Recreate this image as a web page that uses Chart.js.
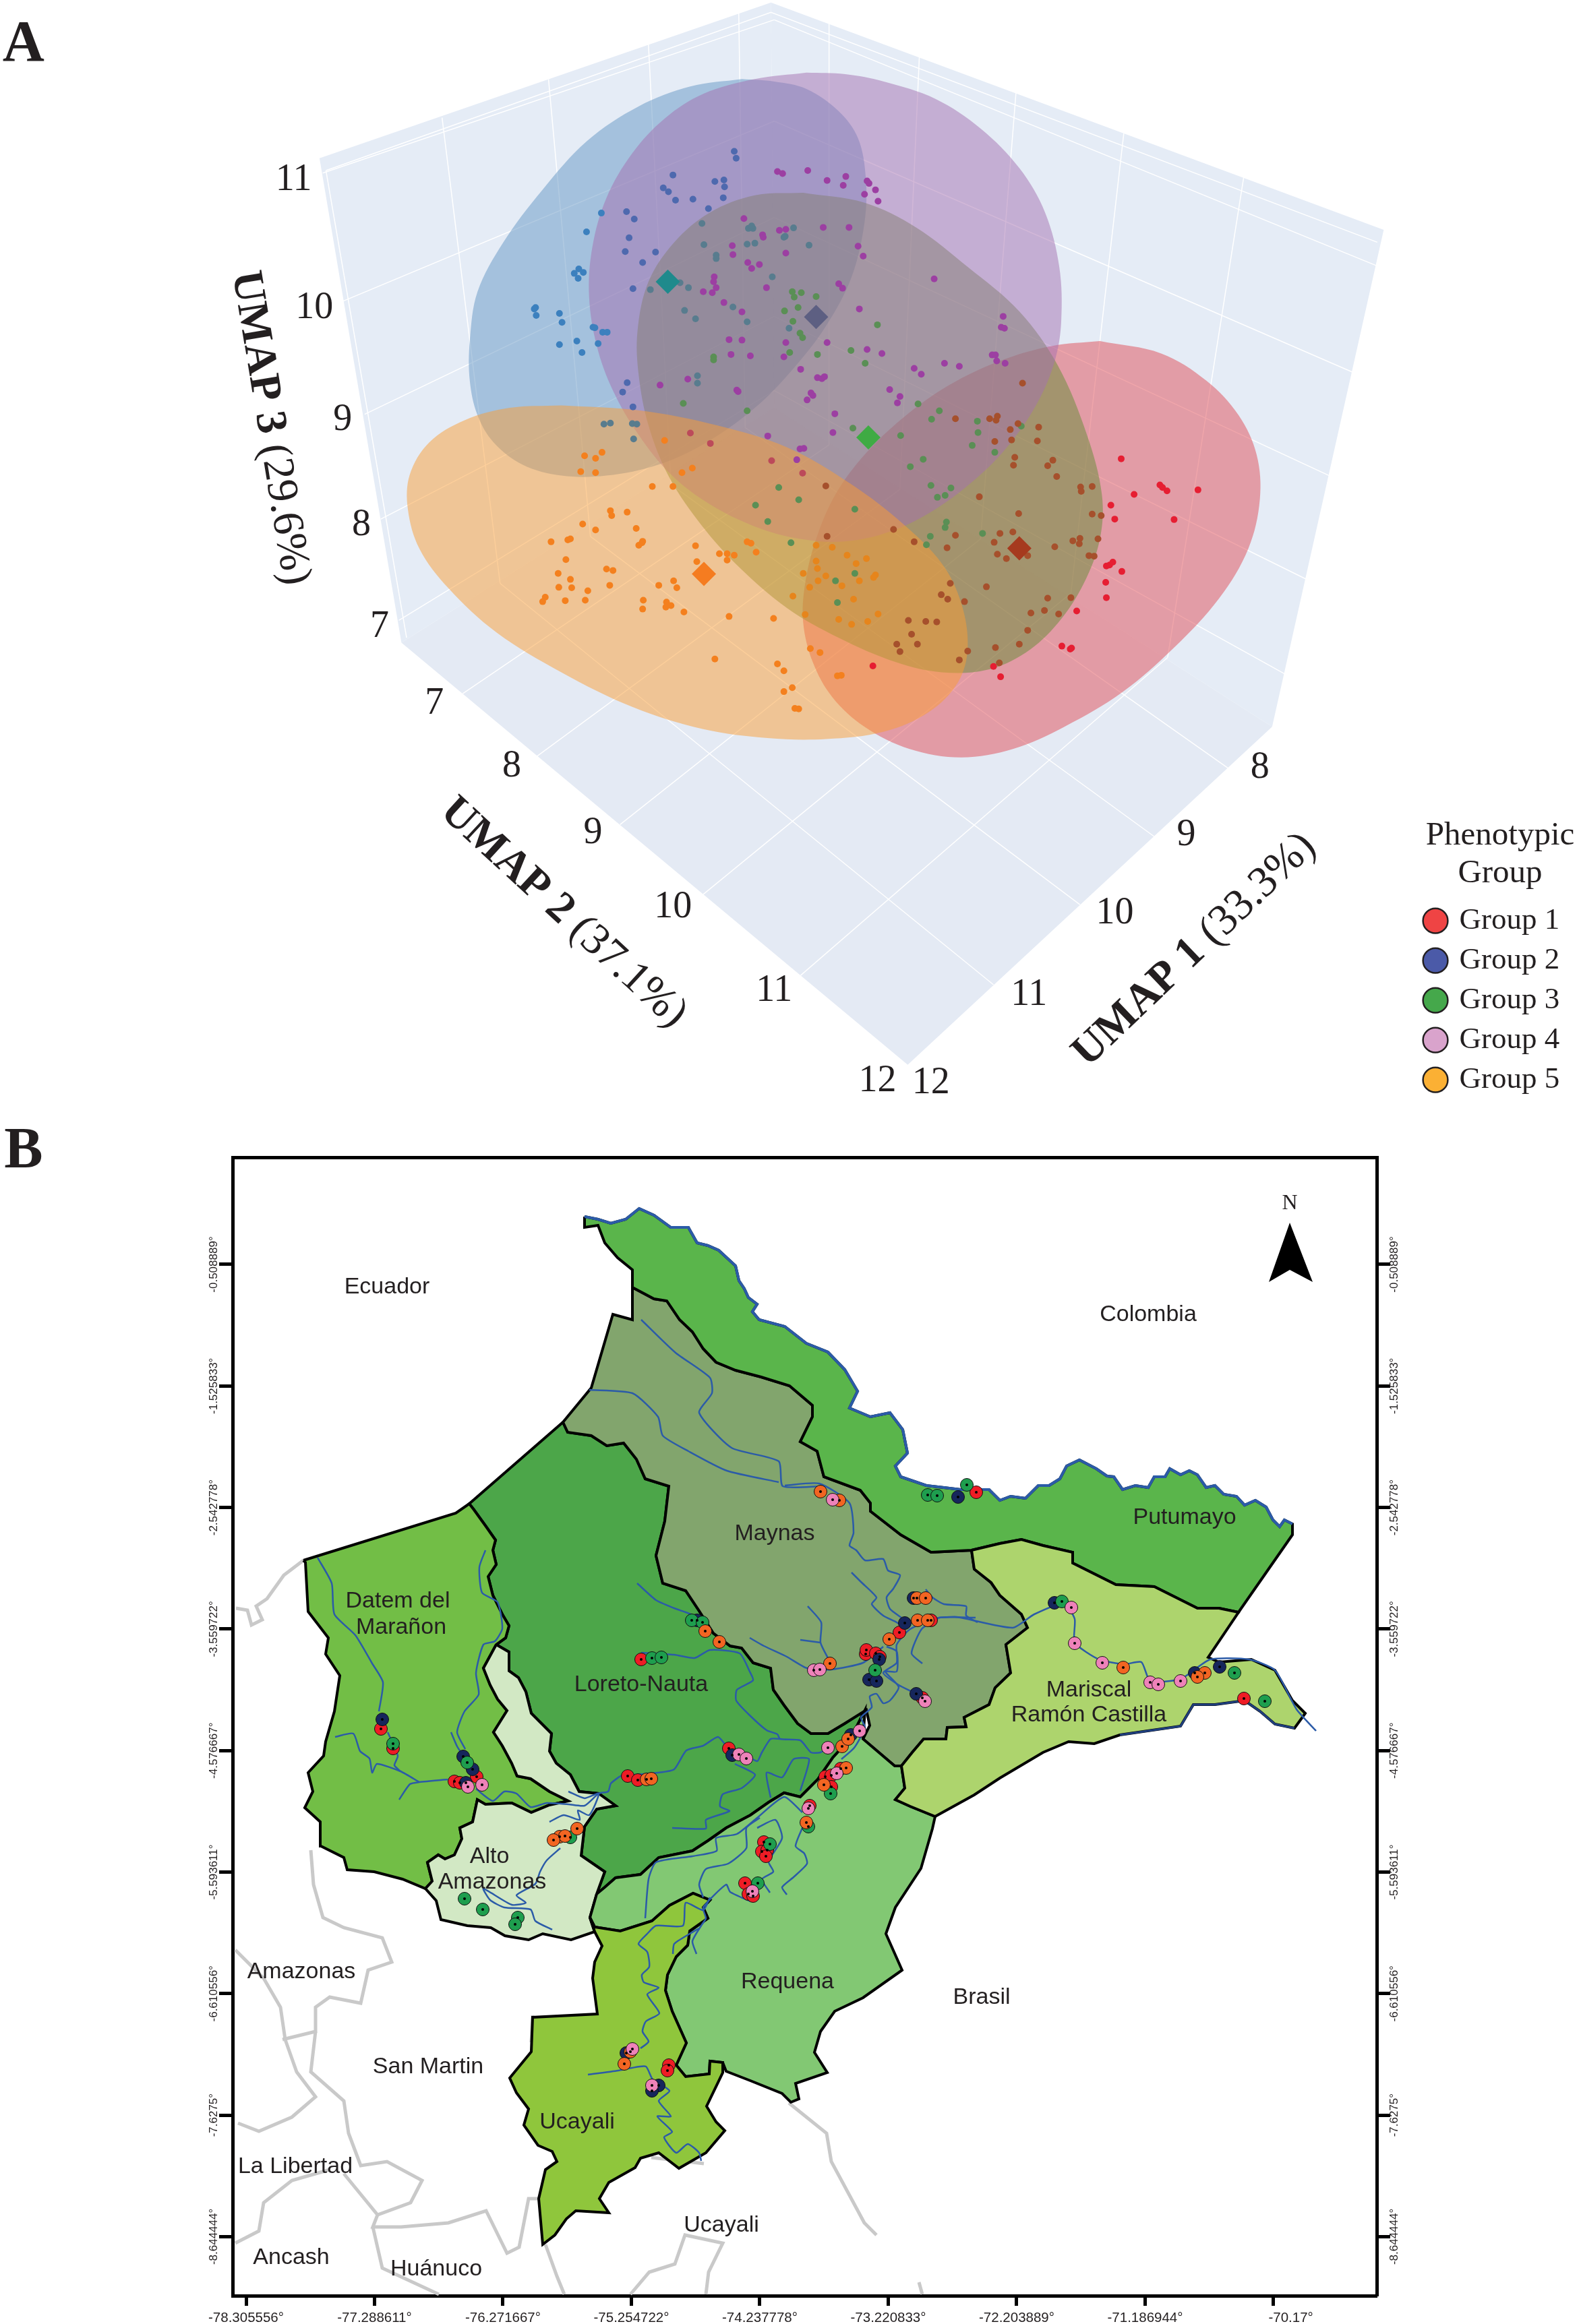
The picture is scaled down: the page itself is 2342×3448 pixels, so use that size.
<!DOCTYPE html>
<html>
<head>
<meta charset="utf-8">
<title>UMAP phenotypic groups and map</title>
<script src="https://cdn.jsdelivr.net/npm/chart.js@4"></script>
<style>
html,body{margin:0;padding:0;background:#fff;width:2342px;height:3448px;overflow:hidden}
canvas{position:absolute;display:block}
#a{left:0;top:0}
#b{left:0;top:1640px}
#l{left:2102px;top:1200px}
</style>
</head>
<body>
<canvas id="a" width="2342" height="1640"></canvas>
<canvas id="b" width="2342" height="1808"></canvas>
<canvas id="l" width="246" height="430"></canvas>
<script>
/* ---------- Panel A: values are read in the plane of the 3-D projection ---------- */
const wallLeft=[[25,320],[725,5],[730,825],[152,1300]];
const wallRight=[[725,5],[1675,465],[1502,1470],[730,825]];
const wallFloor=[[152,1300],[730,825],[1502,1470],[937,2154]];
const gridLines=[
 [[148,1255],[730,790]],[[120,1050],[730,640]],[[95,838],[730,440]],[[60,610],[730,245]],[[30,350],[730,40]],
 [[215,238],[305,1180]],[[380,160],[445,1085]],[[535,90],[570,980]],[[675,25],[685,865]],
 [[815,45],[815,900]],[[955,115],[925,990]],[[1105,185],[1050,1090]],[[1272,270],[1190,1200]],[[1458,358],[1340,1330]],
 [[730,790],[1531,1370]],[[730,640],[1568,1180]],[[730,440],[1605,971]],[[730,245],[1636,758]],[[730,40],[1667,539]],
 [[247,1403],[815,900]],[[362,1530],[925,990]],[[491,1668],[1050,1090]],[[620,1809],[1190,1200]],[[771,1973],[1340,1330]],
 [[1434,1554],[685,865]],[[1319,1692],[570,980]],[[1204,1830],[445,1085]],[[1070,1992],[305,1180]],
 [[35,345],[725,25],[1665,490]],[[35,345],[160,1290]]
];
const hullBlue=[[680,160],[600,175],[520,215],[440,285],[370,385],[310,490],[270,590],[258,690],[258,770],[270,840],[295,895],[340,940],[400,962],[470,962],[550,940],[625,895],[700,825],[760,745],[810,660],[850,560],[870,450],[872,360],[860,280],[830,225],[780,180],[730,165],[680,160]];
const hullPurple=[[780,147],[700,160],[620,190],[560,240],[510,310],[470,400],[448,500],[443,600],[455,700],[480,790],[520,880],[570,960],[630,1020],[700,1065],[770,1090],[840,1095],[910,1075],[980,1030],[1050,960],[1100,890],[1140,810],[1165,730],[1175,650],[1172,540],[1150,430],[1110,340],[1050,260],[980,200],[900,165],[840,150],[780,147]];
const hullGreen=[[775,390],[700,395],[630,430],[575,490],[535,570],[518,670],[520,760],[535,860],[565,960],[610,1050],[670,1140],[750,1230],[830,1290],[920,1340],[990,1360],[1060,1355],[1120,1320],[1170,1260],[1210,1180],[1235,1090],[1238,1000],[1215,880],[1170,740],[1110,630],[1030,540],[950,460],[870,410],[775,390]];
const hullRed=[[1235,690],[1160,700],[1080,730],[1000,780],[930,845],[870,920],[825,1000],[795,1090],[778,1180],[775,1260],[790,1340],[820,1410],[870,1470],[940,1515],[1020,1532],[1100,1515],[1180,1470],[1270,1400],[1350,1310],[1420,1210],[1465,1110],[1483,1010],[1478,920],[1450,840],[1400,770],[1330,715],[1235,690]];
const hullOrange=[[400,820],[320,825],[250,850],[195,895],[165,960],[162,1030],[180,1110],[225,1190],[300,1280],[400,1360],[510,1430],[620,1475],[720,1493],[810,1495],[900,1480],[970,1440],[1015,1380],[1030,1310],[1020,1220],[990,1140],[930,1060],[850,980],[750,905],[640,860],[520,830],[400,820]];

const ptsBlueBright=[[462,431],[439,469],[420,553],[427,544],[434,551],[426,563],[360,622],[358,625],[361,638],[397,634],[401,652],[449,662],[452,663],[464,672],[471,672],[457,695],[397,697],[424,690],[432,713]];
const ptsBlueMid=[[668,306],[671,320],[573,354],[558,380],[566,388],[577,405],[604,403],[638,367],[652,364],[653,378],[651,400],[628,422],[501,428],[513,443],[505,481],[499,509],[546,510],[526,531],[511,584],[502,774],[495,793],[511,823]];
const ptsBlueGrey=[[621,495],[640,516],[640,523],[618,452],[690,462],[697,462],[695,457],[747,478],[745,480],[760,461],[688,494],[700,492],[784,496],[727,560],[538,586],[584,572],[597,582],[591,628],[608,645],[666,621],[688,651],[753,664],[611,760],[611,775],[466,858],[476,856],[510,857],[517,858],[512,888]];
const ptsPurple=[[735,347],[743,351],[782,345],[812,365],[841,357],[874,366],[877,371],[837,375],[887,384],[870,393],[891,407],[683,442],[712,475],[713,480],[738,466],[748,464],[806,460],[846,460],[860,498],[868,518],[665,497],[666,515],[748,512],[689,531],[707,535],[695,543],[637,560],[636,570],[620,590],[634,592],[640,582],[718,582],[830,574],[836,583],[978,564],[652,612],[680,631],[660,687],[680,688],[748,693],[812,693],[663,717],[693,720],[745,722],[862,625],[1085,640],[1082,662],[1087,664],[874,707],[897,715],[1068,718],[1073,718],[1075,730],[1088,735],[994,735],[1017,741],[947,745],[958,757],[771,747],[797,764],[804,766],[808,762],[596,767],[553,779],[672,789],[674,792],[787,795],[790,800],[781,809],[909,788],[925,802],[921,815],[824,837],[821,875],[720,882],[770,908],[776,907],[765,930]];
const ptsPurpleRed=[[600,876],[631,897],[726,932],[774,957]];
const ptsGreen=[[758,590],[772,592],[761,601],[795,600],[746,629],[767,622],[759,650],[770,674],[774,683],[754,713],[797,717],[849,709],[871,735],[890,657],[636,722],[636,728],[589,816],[688,831],[852,866],[926,881],[953,817],[986,831],[974,848],[1045,852],[1046,875],[1037,901],[1072,915],[1113,862],[941,944],[961,929],[973,982],[1004,987],[983,1006],[995,1002],[997,1056],[995,1067],[972,1085],[966,1102],[1053,1079],[756,1098],[737,986],[701,1022],[768,1011],[720,1055],[855,1030],[825,1175],[855,1160],[828,1219]];
const ptsRedBright=[[1268,928],[1328,981],[1332,986],[1339,993],[1387,991],[1288,1000],[1252,1022],[1258,1050],[1350,1051],[1245,1145],[1250,1143],[1255,1137],[1269,1156],[1244,1178],[1245,1209],[1199,1236],[1176,1307],[1189,1313],[1191,1311],[883,1347],[1081,1369],[1070,1348]];
const ptsRedBrown=[[1115,775],[1011,847],[1064,847],[1076,842],[1074,850],[1096,869],[1108,857],[1140,864],[1138,892],[1072,893],[1098,890],[1103,925],[1101,941],[1162,931],[1154,942],[1168,964],[1205,985],[1206,994],[1223,984],[1048,1005],[1223,1040],[1237,1043],[1109,1039],[1232,1090],[1193,1094],[1204,1089],[1203,1100],[1165,1106],[1011,1083],[1080,1079],[1100,1076],[1071,1097],[998,1108],[1076,1121],[1090,1130],[1123,1124],[1218,1124],[1226,1125],[1003,1180],[1059,1187],[989,1203],[999,1212],[1025,1217],[1154,1210],[1190,1209],[1128,1240],[1149,1235],[1171,1242],[1123,1275],[1110,1303],[1073,1310],[1030,1317],[1017,1335],[1079,1341],[965,1257],[982,1258],[938,1255],[943,1283],[920,1303],[952,1303],[925,1318],[947,1096],[915,1071],[810,983],[812,1085]];
const ptsOrange=[[436,922],[463,915],[453,927],[430,954],[453,956],[541,984],[573,984],[560,891],[587,956],[603,947],[476,1033],[502,1036],[478,1043],[433,1060],[453,1072],[516,1069],[526,1095],[525,1098],[520,1103],[384,1096],[410,1092],[414,1090],[407,1132],[395,1160],[414,1172],[396,1188],[416,1189],[441,1195],[375,1208],[371,1217],[406,1215],[437,1214],[470,1151],[480,1154],[475,1184],[551,1184],[574,1175],[579,1189],[608,1104],[610,1136],[645,1120],[657,1120],[668,1123],[657,1133],[688,1096],[694,1099],[702,1117],[527,1214],[526,1232],[563,1218],[562,1228],[570,1225],[590,1238],[660,1247],[729,1251],[638,1333],[735,1343],[745,1357],[758,1391],[745,1399],[762,1433],[768,1434],[786,1312],[801,1320],[828,1367],[834,1366]];
const ptsOrangeDeep=[[795,1103],[820,1107],[795,1135],[797,1150],[843,1123],[857,1140],[873,1130],[775,1160],[798,1175],[785,1188],[810,1165],[835,1185],[862,1175],[887,1163],[884,1168],[759,1206],[853,1212],[778,1243],[830,1253],[850,1263],[875,1257],[891,1242]];
const centroids=[[[565,570],'#1F8A8C'],[[795,641],'#5D5F82'],[[876,885],'#3FAB44'],[[1110,1109],'#A63A1E'],[[621,1161],'#F57C20']];

const zTicks=[['11',-15,365],['10',17,623],['9',61,850],['8',90,1062],['7',118,1268]];
const umap2Ticks=[['7',203,1424],['8',323,1550],['9',449,1686],['10',573,1835],['11',730,2005],['12',890,2188]];
const umap1Ticks=[['8',1483,1553],['9',1369,1690],['10',1258,1848],['11',1125,2013],['12',973,2192]];
const axisTitles=[['UMAP 3',' (29.6%)',-52,866,80.6],['UMAP 2',' (37.1%)',403,1847,42.6],['UMAP 1',' (33.3%)',1382,1922,-43.7]];

/* ---------- Legend ---------- */
const legendNames=['Group 1','Group 2','Group 3','Group 4','Group 5'];
const legendColors=['#EF4444','#4B5AA8','#45A84B','#D9A3CC','#FBB034'];

/* ---------- Panel B: graticule ---------- */
const lonTicks=['-78.305556','-77.288611','-76.271667','-75.254722','-74.237778','-73.220833','-72.203889','-71.186944','-70.17'];
const latTicks=['-0.508889','-1.525833','-2.542778','-3.559722','-4.576667','-5.593611','-6.610556','-7.6275','-8.644444'];

/* map-sheet units (east, south) converted to degrees below */
const putWest=[[867,1805],[867,1821],[887,1818],[897,1844],[916,1866],[938,1884],[938,1910]];
const borderPutMaynas=[[938,1910],[970,1927],[989,1930],[1008,1958],[1027,1976],[1043,2001],[1062,2021],[1091,2033],[1129,2043],[1171,2056],[1205,2085],[1205,2102],[1187,2139],[1212,2153],[1222,2191],[1276,2211],[1291,2230],[1291,2242],[1336,2277],[1381,2303],[1441,2300]];
const borderPutMariscal=[[1441,2300],[1483,2290],[1515,2284],[1547,2293],[1591,2303],[1591,2319],[1655,2351],[1712,2354],[1776,2386],[1808,2386],[1837,2392]];
const putEast=[[1917,2277]];
const putNorth=[[1917,2261],[1905,2255],[1898,2265],[1888,2255],[1878,2236],[1862,2226],[1846,2233],[1834,2220],[1815,2217],[1802,2204],[1789,2207],[1776,2188],[1764,2182],[1751,2188],[1735,2179],[1728,2191],[1712,2191],[1703,2207],[1684,2204],[1665,2210],[1652,2191],[1642,2190],[1626,2179],[1601,2166],[1582,2175],[1572,2194],[1556,2204],[1540,2204],[1521,2223],[1499,2220],[1483,2226],[1467,2210],[1451,2210],[1425,2210],[1400,2207],[1374,2204],[1336,2191],[1328,2175],[1346,2156],[1339,2121],[1320,2096],[1291,2102],[1260,2089],[1272,2064],[1253,2032],[1228,2006],[1196,1993],[1164,1968],[1126,1958],[1116,1946],[1123,1935],[1110,1925],[1104,1912],[1096,1900],[1091,1878],[1066,1855],[1050,1848],[1034,1844],[1021,1821],[995,1821],[970,1803],[948,1793],[928,1809],[906,1815],[887,1809],[867,1805]];
const maynasMariscal=[[1445,2328],[1470,2348],[1483,2367],[1515,2395],[1524,2415],[1492,2440],[1499,2482],[1476,2504],[1467,2529],[1430,2548],[1433,2562],[1405,2563],[1403,2580],[1370,2580],[1353,2600],[1337,2620]];
const maynasTip=[[1327,2620],[1280,2580],[1290,2560],[1285,2537]];
const borderMaynasLoreto=[[1253,2557],[1228,2572],[1203,2572],[1183,2557],[1163,2530],[1147,2507],[1143,2475],[1117,2467],[1100,2445],[1083,2442],[1058,2423],[1037,2390],[1017,2360],[983,2349],[973,2308],[986,2257],[992,2205],[957,2194],[944,2165],[925,2141],[900,2145],[877,2130],[842,2125],[835,2110]];
const maynasNorth=[[877,2059],[909,1950],[938,1958],[938,1910]];
const loretoNorth=[[835,2110],[696,2231]];
const borderLoretoDatem=[[703,2240],[721,2265],[735,2285],[731,2300],[736,2321],[724,2339],[731,2367],[745,2395],[755,2412],[750,2430],[736,2440]];
const borderLoretoAlto=[[755,2451],[755,2479],[769,2489],[780,2510],[788,2542],[818,2572],[815,2598],[825,2616],[846,2633],[859,2658],[888,2661],[913,2679],[885,2684],[867,2710],[862,2753],[897,2777],[885,2810]];
const borderLoretoRequena=[[897,2800],[913,2786],[950,2781],[977,2756],[1027,2746],[1050,2731],[1077,2712],[1113,2693],[1140,2674],[1163,2660],[1187,2666],[1213,2640],[1235,2608],[1263,2577],[1283,2537]];
const datemNorth=[[450,2315],[676,2245],[696,2231]];
const borderDatemAlto=[[717,2475],[727,2500],[738,2521],[752,2538],[732,2570],[745,2590],[759,2616],[767,2635],[787,2639],[815,2658],[843,2672],[815,2678],[788,2689],[759,2675],[720,2677],[708,2670],[701,2703],[682,2712],[685,2728],[674,2752],[660,2758],[650,2752],[634,2763],[641,2791],[631,2802]];
const datemSouth=[[597,2788],[555,2777],[515,2774],[510,2756],[476,2739],[475,2703],[452,2682],[464,2658],[457,2630],[480,2605],[483,2584],[496,2539],[504,2486],[483,2454],[487,2430],[457,2391],[453,2318]];
const altoBottom=[[875,2845],[882,2866],[847,2878],[805,2869],[784,2878],[749,2872],[728,2860],[693,2857],[654,2848],[647,2820]];
const requenaEast=[[1280,2580],[1327,2620],[1337,2620],[1342,2653],[1328,2670],[1350,2680],[1387,2695],[1383,2713],[1366,2772],[1328,2830],[1314,2869],[1338,2923],[1280,2964],[1238,2984],[1217,3014],[1208,3045],[1227,3075],[1180,3091],[1185,3114],[1173,3119],[1160,3106],[1113,3087],[1077,3073]];
const borderReqUcayali=[[1072,3060],[1053,3058],[1052,3077],[1017,3081],[1003,3064],[1018,3031],[997,2984],[987,2953],[990,2930],[1003,2903],[1020,2886],[1023,2865],[1050,2846],[1043,2830],[1053,2819],[1028,2809],[993,2827],[967,2850],[920,2865],[882,2859],[875,2845]];
const ucayaliRest=[[1072,3075],[1048,3125],[1062,3148],[1075,3161],[1047,3194],[1007,3217],[977,3194],[950,3202],[942,3216],[903,3238],[889,3262],[903,3283],[854,3280],[840,3292],[823,3316],[805,3330],[799,3262],[809,3219],[826,3207],[819,3192],[798,3183],[777,3153],[784,3129],[766,3105],[756,3083],[788,3044],[790,2993],[886,2988],[879,2935],[882,2911],[893,2887],[882,2866]];
const mariscalSouth=[[1792,2459],[1808,2466],[1856,2462],[1891,2478],[1917,2523],[1936,2542],[1920,2564],[1891,2558],[1869,2539],[1846,2523],[1802,2529],[1770,2529],[1751,2561],[1661,2574],[1623,2587],[1585,2584],[1547,2600],[1483,2638],[1445,2663],[1387,2695],[1350,2680],[1328,2670],[1342,2653],[1337,2620]];
const mariscalRiver=[[1661,2574],[1751,2561],[1770,2529],[1802,2529],[1846,2523],[1869,2539],[1891,2558],[1920,2564]];

const greyLines=[
 [[450,2315],[421,2337],[396,2372],[380,2383],[389,2403],[373,2411],[367,2389],[350,2386]],
 [[461,2745],[465,2796],[479,2845],[510,2860],[567,2875],[581,2911],[546,2923],[535,2972],[489,2963],[468,2978],[468,3014],[419,3026]],
 [[468,3014],[461,3074],[510,3117],[517,3165],[535,3213],[574,3207],[626,3235],[609,3268],[560,3286],[510,3225]],
 [[349,2893],[391,2935],[416,2978],[423,3026],[440,3074],[468,3111],[433,3141],[384,3162],[353,3150]],
 [[349,3328],[384,3310],[391,3268],[433,3235],[489,3219]],
 [[560,3286],[553,3304],[595,3304],[665,3298],[721,3280],[752,3343],[770,3334],[784,3262],[805,3262]],
 [[553,3304],[567,3365],[651,3404]],
 [[809,3330],[826,3377],[837,3404]],
 [[935,3404],[963,3371],[1001,3359],[1016,3316],[1072,3328],[1051,3371],[1047,3404]],
 [[1170,3120],[1226,3165],[1233,3207],[1282,3298],[1300,3316]],
 [[1363,3386],[1368,3404]],
 [[790,2990],[788,3030]],[[966,3201],[1044,3210]]
];
const rivers=[
 [[592,2670],[608,2647],[622,2644],[664,2640]],
 [[706,2654],[731,2672],[748,2658],[766,2661],[787,2681],[811,2675],[843,2677],[867,2679],[888,2661],[902,2658],[906,2646],[920,2635]],
 [[1393,2400],[1419,2399],[1502,2415],[1534,2395],[1578,2379],[1594,2402],[1594,2437],[1630,2462],[1668,2469],[1693,2466],[1706,2494],[1751,2491],[1795,2462],[1853,2462],[1891,2478],[1923,2536],[1952,2568]],
 [[951,1958],[1002,2007],[1053,2044],[1056,2067],[1037,2096],[1085,2148],[1155,2168],[1161,2205],[1219,2205]],
 [[874,2062],[938,2067],[976,2102],[983,2130],[1021,2153],[1078,2182],[1155,2199]],
 [[1164,2204],[1215,2201],[1260,2230],[1266,2274],[1260,2293],[1270,2300],[1283,2315],[1310,2313],[1317,2330],[1335,2337],[1325,2357],[1315,2370],[1320,2387],[1337,2400]],
 [[1263,2333],[1277,2347],[1300,2370],[1293,2380],[1310,2397],[1330,2407],[1343,2417]],
 [[1198,2383],[1218,2407],[1217,2437],[1228,2460]],[[1187,2433],[1217,2437]],
 [[1112,2430],[1133,2442],[1167,2458],[1197,2475],[1233,2477],[1280,2467],[1310,2443]],
 [[1447,2400],[1393,2400],[1350,2417],[1330,2440],[1330,2467],[1310,2482],[1333,2500],[1353,2510]],
 [[1315,2443],[1330,2450],[1330,2480],[1313,2480],[1333,2503],[1320,2523],[1310,2527],[1300,2513],[1290,2517],[1293,2533],[1277,2548],[1283,2563],[1267,2593],[1248,2610]],
 [[1393,2400],[1367,2417],[1352,2453],[1368,2468]],
 [[1373,2358],[1383,2370],[1400,2380],[1433,2383],[1433,2397],[1450,2407]],
 [[945,2349],[973,2374],[1000,2386],[1017,2392],[1037,2400]],
 [[951,2452],[1000,2455],[1030,2460],[1053,2448],[1097,2453],[1112,2480],[1117,2493],[1093,2507],[1092,2523],[1110,2543],[1137,2567],[1153,2573],[1157,2580],[1187,2582],[1203,2600],[1217,2600],[1227,2593]],
 [[920,2635],[976,2630],[1000,2625],[1018,2597],[1043,2590],[1065,2577],[1080,2593],[1100,2600],[1123,2613],[1130,2600],[1143,2580],[1157,2580]],
 [[1090,2617],[1120,2633],[1100,2653],[1072,2662],[1068,2680],[1082,2687],[1047,2700],[1047,2713],[997,2712]],
 [[1143,2667],[1137,2630],[1160,2637],[1177,2610],[1200,2610],[1187,2657]],
 [[471,2311],[492,2349],[496,2395],[527,2426],[552,2468],[568,2496],[562,2539]],
 [[497,2577],[524,2572],[534,2598],[548,2609],[552,2630],[559,2617],[594,2628],[622,2644]],
 [[575,2570],[590,2605],[585,2619],[594,2628]],
 [[720,2300],[711,2325],[715,2363],[738,2377],[745,2416],[734,2435],[717,2440],[706,2482],[710,2514],[689,2539],[678,2570],[690,2595]],
 [[669,2570],[678,2591],[687,2605]],
 [[843,2658],[867,2668],[888,2661],[874,2693],[857,2686],[860,2700],[836,2693],[815,2703]],
 [[831,2742],[811,2760],[801,2777],[794,2795],[766,2812],[780,2823],[759,2826],[717,2802],[727,2819],[748,2830],[787,2833],[794,2850],[819,2863]],
 [[957,2846],[962,2788],[973,2763],[1027,2754],[1063,2746],[1062,2727],[1093,2721],[1123,2697],[1163,2666],[1190,2689]],
 [[1043,2815],[1037,2796],[1047,2773],[1080,2765],[1107,2742],[1107,2712],[1127,2697]],
 [[1123,2712],[1150,2700],[1160,2727],[1140,2762],[1147,2777],[1130,2788],[1142,2808]],
 [[1033,2899],[1027,2880],[1040,2857],[1047,2846],[1043,2830],[1077,2796],[1083,2807],[1113,2821]],
 [[1167,2811],[1160,2800],[1177,2785],[1197,2765],[1193,2750],[1180,2739],[1190,2712]],
 [[1053,2815],[1043,2834],[1017,2823],[1013,2857],[973,2857],[960,2869],[947,2884],[960,2896],[963,2918],[952,2930],[955,2941],[977,2949],[960,2959],[978,2987],[958,2999],[953,3014],[962,3029],[950,3039]],
 [[872,3078],[917,3072],[937,3068],[958,3066],[968,3085],[993,3102],[977,3117],[995,3140],[975,3140],[997,3163],[985,3171],[1003,3194],[1020,3181],[1037,3194],[1040,3206]],
 [[998,2899],[1000,2884],[1023,2869],[1037,2861]]
];
const sitesRed=[[951,2462],[565,2565],[583,2594],[707,2636],[674,2643],[682,2645],[931,2635],[946,2641],[1081,2594],[1224,2636],[1233,2634],[1247,2624],[1233,2651],[1201,2679],[1133,2733],[1130,2747],[1138,2745],[1136,2754],[1105,2794],[1110,2810],[1117,2813],[992,3064],[990,3072],[1448,2214],[1845,2520],[1381,2404],[1334,2422],[1284,2454],[1285,2448],[1299,2453],[1305,2458],[1368,2519]];
const sitesNavy=[[1034,2404],[567,2551],[687,2606],[701,2625],[691,2645],[1086,2604],[1262,2574],[929,3046],[977,3094],[967,3102],[1359,2513],[1421,2221],[1355,2371],[1564,2378],[1772,2482],[1809,2473],[1342,2408],[1304,2462],[1289,2492],[1300,2494]];
const sitesGreen=[[1026,2404],[1042,2407],[967,2460],[981,2459],[583,2587],[693,2615],[1232,2661],[1199,2710],[1142,2736],[1124,2794],[846,2726],[689,2817],[716,2833],[768,2845],[764,2855],[1376,2218],[1390,2219],[1434,2203],[1575,2376],[1831,2482],[1876,2524],[1298,2478]];
const sitesOrange=[[1217,2213],[1245,2226],[1046,2420],[1067,2436],[1231,2468],[959,2640],[966,2639],[1249,2591],[1258,2580],[1255,2623],[1222,2648],[1196,2704],[856,2713],[830,2725],[838,2724],[821,2730],[935,3044],[926,3062],[1360,2371],[1373,2371],[1361,2404],[1376,2404],[1319,2432],[1666,2474],[1787,2482],[1776,2488]];
const sitesPink=[[1235,2225],[1207,2478],[1216,2477],[694,2651],[715,2648],[1096,2603],[1107,2609],[1228,2593],[1275,2568],[1241,2631],[1199,2683],[1116,2806],[938,3040],[967,3094],[1372,2524],[1589,2385],[1594,2438],[1635,2467],[1706,2496],[1718,2499],[1751,2494]];
const northArrow=[[1913,1814],[1882,1902],[1913,1884],[1947,1902],[1913,1814]];
const mapLabels=[['Ecuador',574,1910],['Colombia',1703,1951],['Putumayo',1757,2252],['Maynas',1149,2276],['Datem del',590,2376],['Marañon',595,2415],['Loreto-Nauta',951,2500],['Mariscal',1615,2508],['Ramón Castilla',1615,2545],['Alto',726,2755],['Amazonas',730,2793],['Requena',1168,2941],['Brasil',1456,2964],['Amazonas',447,2926],['San Martin',635,3067],['Ucayali',856,3149],['La Libertad',438,3215],['Ucayali',1070,3302],['Ancash',432,3350],['Huánuco',647,3367]];

/* ---------- helpers ---------- */
const INK='#231F20', SERIF='"Liberation Serif"', SANS='"Liberation Sans"';
const xy=a=>a.map(([x,y])=>({x,y}));
const rev=a=>a.slice().reverse();
function withOrder(list){list.forEach((d,i)=>{d.order=list.length-i;});return list;}
function shape(label,pts,fill,stroke,width,tension){return {label,data:pts,showLine:true,fill:'shape',backgroundColor:fill,borderColor:stroke||'rgba(0,0,0,0)',borderWidth:width||0,pointRadius:0,tension:tension||0,clip:false};}
function line(label,pts,color,width,tension){return {label,data:pts,showLine:true,fill:false,borderColor:color,borderWidth:width,pointRadius:0,tension:tension||0};}
function dots(label,pts,color,r,extra){return Object.assign({label,data:pts,showLine:false,backgroundColor:color,borderColor:color,borderWidth:0,pointRadius:r,pointHoverRadius:r},extra||{});}
function drawItems(chart,items){
  const c=chart.ctx,sx=chart.scales.x,sy=chart.scales.y;
  c.save();
  items.forEach(i=>{
    const px=sx.getPixelForValue(i.x),py=sy.getPixelForValue(i.y);
    c.save();c.translate(px,py);if(i.rot)c.rotate(i.rot*Math.PI/180);
    c.fillStyle=INK;c.textBaseline='middle';
    if(i.bold){
      const bf='bold '+i.size+'px '+SERIF,rf=i.size+'px '+SERIF;
      c.font=bf;const w1=c.measureText(i.bold).width;
      c.font=rf;const w2=c.measureText(i.t).width;
      c.textAlign='left';c.font=bf;c.fillText(i.bold,-(w1+w2)/2,0);
      c.font=rf;c.fillText(i.t,-(w1+w2)/2+w1,0);
    }else{
      c.font=(i.weight||'')+' '+i.size+'px '+(i.fam||SERIF);c.textAlign='center';c.fillText(i.t,0,0);
    }
    c.restore();
  });
  c.restore();
}

/* ---------- Panel A chart ---------- */
const VIEW={xMin:-470.4,xMax:1977.8,yMin:0,yMax:2236};
const aDatasets=withOrder([
  shape('Left wall',xy(wallLeft.concat([wallLeft[0]])),'#E5ECF6'),
  shape('Right wall',xy(wallRight.concat([wallRight[0]])),'#E5ECF6'),
  shape('Floor',xy(wallFloor.concat([wallFloor[0]])),'#E4EAF4'),
  ...gridLines.map((g,i)=>line('grid '+i,xy(g),'#FFFFFF',1.5)),
  shape('Hull group 2',xy(hullBlue),'rgba(100,150,195,0.5)',null,0,0.35),
  shape('Hull group 1',xy(hullRed),'rgba(223,76,86,0.5)',null,0,0.35),
  shape('Hull group 3',xy(hullGreen),'rgba(100,140,54,0.5)',null,0,0.35),
  shape('Hull group 4',xy(hullPurple),'rgba(163,112,176,0.5)',null,0,0.35),
  shape('Hull group 5',xy(hullOrange),'rgba(249,158,54,0.5)',null,0,0.35),
  dots('Group 2',xy(ptsBlueBright),'#3C80BE',5),
  dots('Group 2 b',xy(ptsBlueMid),'#4E69AE',5),
  dots('Group 2 c',xy(ptsBlueGrey),'#587C8E',5),
  dots('Group 4',xy(ptsPurple),'#9C3FA2',5),
  dots('Group 4 b',xy(ptsPurpleRed),'#BC4A5A',5),
  dots('Group 3',xy(ptsGreen),'#5A8F55',5),
  dots('Group 1',xy(ptsRedBright),'#E61E32',5),
  dots('Group 1 b',xy(ptsRedBrown),'#A6502C',5),
  dots('Group 5',xy(ptsOrange),'#F4801E',5),
  dots('Group 5 b',xy(ptsOrangeDeep),'#E6851C',5),
  ...centroids.map(([p,col],i)=>dots('Centroid '+(i+1),xy([p]),col,18,{pointStyle:'rectRot'}))
]);
const aTexts=[
  ...zTicks.concat(umap2Ticks,umap1Ticks).map(([t,x,y])=>({t,x,y,size:56})),
  ...axisTitles.map(([b,t,x,y,rot])=>({bold:b,t,x,y,rot,size:65})),
  {t:'A',x:-434,y:93,size:86,weight:'bold'}
];
new Chart(document.getElementById('a'),{
  type:'scatter',
  data:{datasets:aDatasets},
  options:{responsive:false,animation:false,devicePixelRatio:1,
    layout:{padding:0,autoPadding:false},
    plugins:{legend:{display:false},tooltip:{enabled:false},title:{display:false}},
    scales:{
      x:{type:'linear',display:false,min:VIEW.xMin,max:VIEW.xMax},
      y:{type:'linear',display:false,min:VIEW.yMin,max:VIEW.yMax,reverse:true}
    }},
  plugins:[{id:'panelAText',afterDatasetsDraw(ch){drawItems(ch,aTexts);}}]
});

/* ---------- Panel B chart ---------- */
const lonVals=lonTicks.map(Number), latVals=latTicks.map(Number);
const lonAt=e=>lonVals[0]+(e-365)*(lonVals[1]-lonVals[0])/190.5;
const latAt=s=>latVals[0]+(s-1876)*(latVals[1]-latVals[0])/180.3;
const geo=a=>a.map(([e,s])=>({x:lonAt(e),y:latAt(s)}));
const ring=(...parts)=>{const r=[].concat(...parts);r.push(r[0]);return geo(r);};
const LON_MIN=lonAt(345),LON_MAX=lonAt(2042),LAT_MIN=latAt(3406),LAT_MAX=latAt(1717);
const OUT='#000000',RIVER='#2B5BA8',BW=4;
const sitesOf=(label,a,col)=>dots(label,geo(a),col,9.5,{borderColor:'#111',borderWidth:1});
const allSites=[].concat(sitesRed,sitesNavy,sitesGreen,sitesOrange,sitesPink);
const bDatasets=withOrder([
  ...greyLines.map((g,i)=>line('dept '+i,geo(g),'#C9C9C9',5)),
  shape('Loreto-Nauta',ring(loretoNorth,borderLoretoDatem,borderLoretoAlto,borderLoretoRequena,borderMaynasLoreto),'#4CA649',OUT,BW),
  shape('Maynas',ring(borderPutMaynas,maynasMariscal,maynasTip,borderMaynasLoreto,maynasNorth),'#82A56D',OUT,BW),
  shape('Putumayo',ring(putWest,borderPutMaynas,borderPutMariscal,putEast,putNorth),'#5AB54B',OUT,BW),
  shape('Datem del Marañon',ring(datemNorth,borderLoretoDatem,borderDatemAlto,datemSouth),'#72BE46',OUT,BW),
  shape('Alto Amazonas',ring([[736,2440]],borderLoretoAlto,altoBottom,rev(borderDatemAlto)),'#D2E8C4',OUT,BW),
  shape('Requena',ring([[885,2810]],borderLoretoRequena,requenaEast,borderReqUcayali),'#82C873',OUT,BW),
  shape('Ucayali',ring(rev(borderReqUcayali),ucayaliRest),'#8FC63C',OUT,BW),
  shape('Mariscal Ramón Castilla',ring(borderPutMariscal,mariscalSouth,rev(maynasMariscal)),'#ADD46D',OUT,BW),
  line('Putumayo river',geo(putNorth),RIVER,4),
  line('Mariscal river',geo(mariscalRiver),'#1F3F7F',3),
  ...rivers.map((r,i)=>line('river '+i,geo(r),RIVER,2.5,0.2)),
  shape('North arrow',geo(northArrow),'#000000'),
  sitesOf('Sites group 1',sitesRed,'#EE1C25'),
  sitesOf('Sites group 2',sitesNavy,'#16265C'),
  sitesOf('Sites group 3',sitesGreen,'#1E9E4E'),
  sitesOf('Sites group 5',sitesOrange,'#F26522'),
  sitesOf('Sites group 4',sitesPink,'#EE82B9'),
  dots('Site centres',geo(allSites),'#000000',2)
]);
const bTexts=[
  ...mapLabels.map(([t,e,s])=>({t,x:lonAt(e),y:latAt(s),size:34,fam:SANS})),
  {t:'N',x:lonAt(1913),y:latAt(1786),size:32},
  {t:'B',x:lonAt(35),y:latAt(1710),size:86,weight:'bold'}
];
const yAxis=(pos,width,pad)=>({
  type:'linear',position:pos,min:LAT_MIN,max:LAT_MAX,axis:'y',
  afterBuildTicks(s){s.ticks=latVals.map(value=>({value}));},
  afterFit(s){s.width=width;},
  grid:{drawOnChartArea:false,drawTicks:true,tickLength:20,tickWidth:5,tickColor:'#000'},
  border:{display:true,color:'#000',width:5},
  ticks:{autoSkip:false,minRotation:90,maxRotation:90,crossAlign:'center',padding:pad,color:INK,
    font:{family:SANS,size:17},callback:(v,i)=>latTicks[i]+'°'}
});
new Chart(document.getElementById('b'),{
  type:'scatter',
  data:{datasets:bDatasets},
  options:{responsive:false,animation:false,devicePixelRatio:1,
    layout:{padding:0,autoPadding:false},
    plugins:{legend:{display:false},tooltip:{enabled:false},title:{display:false}},
    scales:{
      x:{type:'linear',position:'bottom',min:LON_MIN,max:LON_MAX,
        afterBuildTicks(s){s.ticks=lonVals.map(value=>({value}));},
        afterFit(s){s.height=42;},
        grid:{drawOnChartArea:false,drawTicks:true,tickLength:15,tickWidth:5,tickColor:'#000'},
        border:{display:true,color:'#000',width:5},
        ticks:{autoSkip:false,minRotation:0,maxRotation:0,padding:6,color:INK,
          font:{family:SANS,size:20.5},callback:(v,i)=>(i===lonTicks.length-1?'\u00A0'.repeat(9):'')+lonTicks[i]+'°'}},
      x2:{type:'linear',position:'top',axis:'x',min:LON_MIN,max:LON_MAX,
        afterFit(s){s.height=77;},
        grid:{drawOnChartArea:false,drawTicks:false},
        border:{display:true,color:'#000',width:5},
        ticks:{display:false}},
      y:yAxis('left',345,-34),
      y2:yAxis('right',300,-35)
    }},
  plugins:[{id:'panelBText',afterDatasetsDraw(ch){drawItems(ch,bTexts);}}]
});

/* ---------- Legend chart ---------- */
new Chart(document.getElementById('l'),{
  type:'scatter',
  data:{datasets:legendNames.map((label,i)=>({label,data:[],backgroundColor:legendColors[i],borderColor:'#231F20',borderWidth:2.5,pointStyle:'circle'}))},
  options:{responsive:false,animation:false,devicePixelRatio:1,layout:{padding:0,autoPadding:false},
    scales:{x:{display:false},y:{display:false}},
    plugins:{tooltip:{enabled:false},
      title:{display:true,text:['Phenotypic','Group'],color:INK,font:{family:SERIF,size:49,weight:'normal',lineHeight:1.15},padding:{top:12,bottom:5},align:'center'},
      legend:{display:true,position:'top',align:'start',maxHeight:300,labels:{usePointStyle:true,pointStyle:'circle',boxWidth:26,boxHeight:26,padding:14,color:INK,font:{family:SERIF,size:45,lineHeight:1},textAlign:'left'}}}
  }
});
</script>
</body>
</html>
